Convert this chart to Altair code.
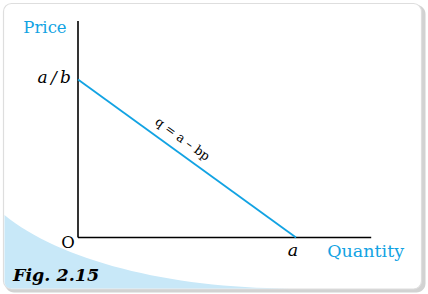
import altair as alt
import pandas as pd

# ---- data (abstract units: a = 10, a/b = 10) ----
quantity = [0, 10]        # 0 and a
price = [10, 0]           # a/b and 0
axis_q_max = [13.45]
axis_p_max = [13.7]

W, H = 428, 294
BLUE = "#12a3e3"
LIGHT = "#c8e8f8"
FONT = "'DejaVu Serif', 'Liberation Serif', serif"

# scales: plot area covers whole canvas
kx, ky = 21.8, 15.8
ox, oy = 78, 237.5
xs = alt.Scale(domain=[-ox / kx, (W - ox) / kx], nice=False, zero=False)
ys = alt.Scale(domain=[(oy - H) / ky, oy / ky], nice=False, zero=False)

one = alt.Data(values=[{}])

shadow = alt.Chart(one).mark_rect(cornerRadius=9, color="#d2d2d2").encode(
    x=alt.value(5), x2=alt.value(425.5), y=alt.value(5), y2=alt.value(292.5))
card = alt.Chart(one).mark_rect(cornerRadius=8, fill="white", stroke="#dedede", strokeWidth=1.2).encode(
    x=alt.value(3.5), x2=alt.value(421.5), y=alt.value(3.5), y2=alt.value(289))
swoosh_path = "M 4.5 215 L 4.5 281 Q 4.5 288.4 12 288.4 L 290 288.4 A 320 134 0 0 1 4.5 215 Z"
swoosh = alt.Chart(one).mark_point(shape=swoosh_path, size=4, filled=True, fill=LIGHT,
                                   opacity=1, strokeWidth=0).encode(
    x=alt.value(0), y=alt.value(0))

base = pd.DataFrame({"q": [0.0], "p": [0.0], "qm": axis_q_max, "pm": axis_p_max})
xaxis = alt.Chart(base).mark_rule(color="black", strokeWidth=1.6).encode(
    x=alt.X("q:Q", scale=xs, axis=None), x2="qm:Q",
    y=alt.Y("p:Q", scale=ys, axis=None))
yaxis = alt.Chart(base).mark_rule(color="black", strokeWidth=1.6).encode(
    x=alt.X("q:Q", scale=xs, axis=None),
    y=alt.Y("p:Q", scale=ys, axis=None), y2="pm:Q")

demand = pd.DataFrame({"q": quantity, "p": price})
line = alt.Chart(demand).mark_line(color=BLUE, strokeWidth=1.8).encode(
    x=alt.X("q:Q", scale=xs, axis=None), y=alt.Y("p:Q", scale=ys, axis=None))

def txt(df, text, **kw):
    return alt.Chart(df).mark_text(font=FONT, **kw).encode(
        x=alt.X("q:Q", scale=xs, axis=None), y=alt.Y("p:Q", scale=ys, axis=None),
        text=alt.value(text))

top = pd.DataFrame({"q": [0.0], "p": axis_p_max})
right = pd.DataFrame({"q": axis_q_max, "p": [0.0]})
origin = pd.DataFrame({"q": [0.0], "p": [0.0]})
p_int = pd.DataFrame({"q": [0.0], "p": [price[0]]})
q_int = pd.DataFrame({"q": [quantity[1]], "p": [0.0]})
mid = pd.DataFrame({"q": [sum(quantity) / 2], "p": [sum(price) / 2]})

t_price = txt(top, "Price", fontSize=16.5, color=BLUE, align="center", baseline="alphabetic", dx=-33, dy=12)
t_qty = txt(right, "Quantity", fontSize=17.5, color=BLUE, align="left", baseline="alphabetic", dx=-44, dy=19)
t_ab = txt(p_int, "a\u2009/\u2009b", fontSize=17, fontStyle="italic", color="black", align="right", baseline="alphabetic", dx=-7, dy=3)
t_o = txt(origin, "O", fontSize=16.5, color="black", align="center", baseline="alphabetic", dx=-10, dy=10)
t_a = txt(q_int, "a", fontSize=17.5, fontStyle="italic", color="black", align="center", baseline="alphabetic", dx=-3, dy=18.5)
t_eq = txt(mid, "q = a – bp", fontSize=12.5, color="black", align="center", baseline="middle", angle=36, dx=-15, dy=-13)
t_fig = alt.Chart(one).mark_text(font=FONT, fontSize=17.5, fontStyle="italic", fontWeight="bold",
                                 color="black", align="left", baseline="alphabetic").encode(
    x=alt.value(13), y=alt.value(281), text=alt.value("Fig. 2.15"))

chart = alt.layer(shadow, card, swoosh, xaxis, yaxis, line,
                  t_price, t_qty, t_ab, t_o, t_a, t_eq, t_fig).properties(
    width=W, height=H, padding=0, autosize=alt.AutoSizeParams(type="none"),
    background="white"
).configure_view(stroke=None)

chart.save("out.html", embed_options={"renderer": "svg", "actions": False})
